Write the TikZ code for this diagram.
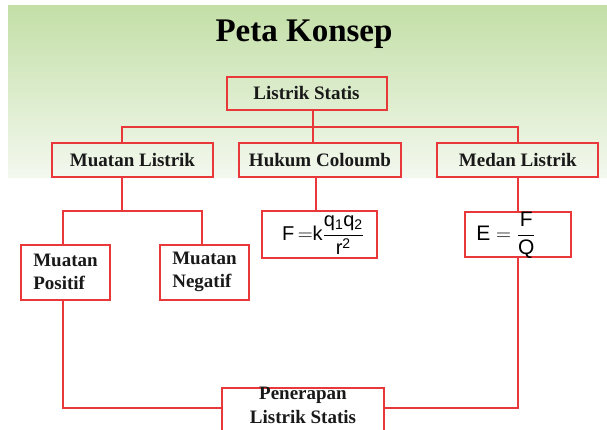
\documentclass[tikz,border=0pt]{standalone}
\usepackage{fontspec}
\setmainfont{Liberation Serif}
\setsansfont{Liberation Sans}
\begin{document}
\begin{tikzpicture}[x=1pt,y=-1pt,
  box/.style={draw=boxred, line width=2pt, fill=white, inner sep=0pt, text=black!90,
    font=\fontsize{19}{22}\selectfont\bfseries},
  topbox/.style={box, fill=none},
  link/.style={draw=boxred, line width=2pt}]
\definecolor{boxred}{HTML}{E8383A}
\definecolor{greentop}{HTML}{C3DFA7}
\definecolor{greenbot}{HTML}{F3F8EE}
\useasboundingbox (0,0) rectangle (607,429);
\clip (0,0) rectangle (607,429);
\shade[top color=greentop, bottom color=greenbot] (8,5) rectangle (607,177);
\node[font=\fontsize{33}{38}\selectfont\bfseries, text=black] (title) at (304,34) {Peta Konsep};
% boxes
\node[topbox, minimum width=160pt, minimum height=33pt] (ls) at (306.5,93) {Listrik Statis};
\node[topbox, minimum width=161pt, minimum height=33.5pt] (ml) at (132.5,160) {Muatan Listrik};
\node[topbox, minimum width=162pt, minimum height=33.5pt] (hc) at (320,160) {Hukum Coloumb};
\node[topbox, minimum width=161pt, minimum height=33.5pt] (mel) at (517.8,160) {Medan Listrik};
\node[box, minimum width=115pt, minimum height=46.5pt] (fb) at (319.6,234.7) {};
\node[font=\fontsize{20}{24}\selectfont, text=black] (ftext) at (323,235)
  {$\displaystyle\mathsf{F}\,{=}\mathsf{k}\frac{\mathsf{q_1q_2}}{\mathsf{r^2}}$};
\node[box, minimum width=106pt, minimum height=45pt] (eb) at (518,234.5) {};
\node[font=\fontsize{21}{24}\selectfont, text=black] (etext) at (506,235)
  {$\displaystyle\mathsf{E}\;{=}\;\frac{\mathsf{F}}{\mathsf{Q}}$};
\node[box, minimum width=89pt, minimum height=55pt, align=left] (mp) at (65.5,272.3) {Muatan\\[1pt]Positif};
\node[box, minimum width=89pt, minimum height=55pt, align=left] (mn) at (204.5,272.3) {Muatan\\[1pt]Negatif};
\node[box, minimum width=162pt, minimum height=60pt, align=center, anchor=north] (pen) at (303,386.5)
  {Penerapan\\[2pt]Listrik Statis\\[10pt]};
% junction coordinates
\coordinate (j1) at (313,127);
\coordinate (j2) at (122,211);
\coordinate (j3) at (63,408);
\coordinate (j4) at (518,408);
% connectors
\draw[link] (ls.south -| j1) -- (j1);
\draw[link] (ml.north -| j2) |- (j1) -| (mel.north);
\draw[link] (j1) -- (hc.north -| j1);
\draw[link] (ml.south -| j2) -- (j2);
\draw[link] (mp.north -| j3) |- (j2) -| (mn.north -| 202,0);
\draw[link] (hc.south -| 316,0) -- (fb.north -| 316,0);
\draw[link] (mel.south -| j4) -- (eb.north -| j4);
\draw[link] (mp.south -| j3) -- (j3) -- (pen.west |- j3);
\draw[link] (eb.south -| j4) -- (j4) -- (pen.east |- j4);
\end{tikzpicture}
\end{document}
